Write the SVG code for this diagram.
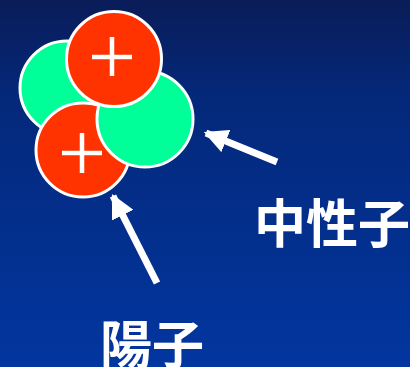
<svg xmlns="http://www.w3.org/2000/svg" width="410" height="367" viewBox="0 0 410 367">
  <defs>
    <linearGradient id="bg" x1="0" y1="0" x2="0" y2="1">
      <stop offset="0" stop-color="#0a1c58"/>
      <stop offset="0.25" stop-color="#042879"/>
      <stop offset="1" stop-color="#0236a0"/>
    </linearGradient>
    <marker id="head" viewBox="0 0 10 10" refX="9" refY="5" markerWidth="3.4" markerHeight="3.4" markerUnits="strokeWidth" orient="auto">
      <path d="M0,0 L10,5 L0,10 Z" fill="#ffffff"/>
    </marker>
  </defs>
  <style>
    .neutron { fill: #00ff99; stroke: #ffffff; stroke-width: 3; }
    .proton { fill: #ff3300; stroke: #ffffff; stroke-width: 3; }
    .plus { stroke: #ffffff; stroke-width: 4.5; fill: none; }
    .arrow { stroke: #ffffff; stroke-width: 7; fill: none; }
    .label { fill: #ffffff; font-family: "Noto Sans CJK JP", "Noto Sans", sans-serif; font-weight: bold; font-size: 52px; }
  </style>

  <rect x="0" y="0" width="410" height="367" fill="url(#bg)"/>

  <!-- nucleus: two neutrons and two protons, stacked -->
  <g id="neutron-left">
    <circle class="neutron" cx="67" cy="88" r="47"/>
  </g>
  <g id="proton-bottom">
    <circle class="proton" cx="83" cy="150" r="47"/>
    <path class="plus" d="M62,153 H102 M82,133 V173"/>
  </g>
  <g id="neutron-right">
    <circle class="neutron" cx="145" cy="119" r="48"/>
  </g>
  <g id="proton-top">
    <circle class="proton" cx="114" cy="59" r="47.5"/>
    <path class="plus" d="M92,57 H132 M112,37 V76"/>
  </g>

  <g id="connectors">
    <line class="arrow" x1="277" y1="162" x2="206" y2="133" marker-end="url(#head)"/>
    <line class="arrow" x1="157" y1="283" x2="113" y2="196" marker-end="url(#head)"/>
  </g>

  <g id="label-neutron">
    <text class="label" x="254" y="243">中性子</text>
  </g>
  <g id="label-proton">
    <text class="label" x="100" y="364">陽子</text>
  </g>
</svg>
